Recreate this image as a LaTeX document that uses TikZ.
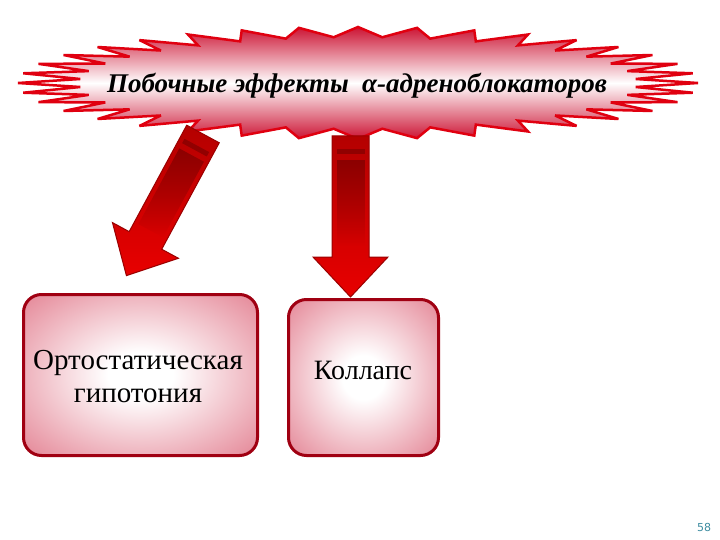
\documentclass[tikz,border=0pt]{standalone}
\usepackage{fontspec}
\setmainfont{Liberation Serif}
\newfontfamily\numfont{DejaVu Sans}
\usetikzlibrary{fadings}
\definecolor{boxpink}{HTML}{DE6A7E}
\definecolor{boxedge}{HTML}{A00012}
\definecolor{banred}{HTML}{E00010}
\definecolor{banpink}{HTML}{CC1434}
\definecolor{arrdark}{HTML}{800000}
\definecolor{arrtop}{HTML}{B40000}
\definecolor{arrbot}{HTML}{E80000}
\definecolor{arredge}{HTML}{9A0000}
\definecolor{numcol}{HTML}{3D8CA0}
\pgfdeclareradialshading{boxshade}{\pgfpoint{0bp}{0bp}}{color(0bp)=(white); color(7bp)=(white); color(42bp)=(boxpink); color(100bp)=(boxpink)}
\tikzset{
  box/.style={draw=boxedge, line width=3pt, rounded corners=18pt, shading=boxshade, align=center, inner sep=0pt},
  boxtext/.style={font=\fontsize{29}{33}\selectfont, align=center},
  banner/.style={draw=banred, line width=2.5pt, line join=miter, miter limit=4, top color=banpink, bottom color=banpink, middle color=white},
  arrowbody/.style={draw=arredge, line width=1pt, top color=arrtop, bottom color=arrbot},
}
\newcommand{\blockarrow}{%
  \path[arrowbody] (-18.5,0) -- (18.5,0) -- (18.5,121) -- (37.5,121) -- (0,161) -- (-37.5,121) -- (-18.5,121) -- cycle;
  \fill[arrdark, opacity=0.7] (-14,13) rectangle (14,18);
  \fill[arrdark, path fading=south, opacity=0.8] (-14,24) rectangle (14,110);
}
\begin{document}
\begin{tikzpicture}[x=1pt,y=-1pt]
\useasboundingbox (0,0) rectangle (720,540);
% banner
\path[banner] plot[domain=0:360, samples=73] ({358+340*(0.91+0.09*cos(36*\x))*cos(\x)}, {83+56*(0.91+0.09*cos(36*\x))*sin(\x)}) -- cycle;
\node (title) at (357,86) {\fontsize{27}{30}\selectfont\bfseries\itshape Побочные эффекты\ \ α-адреноблокаторов};
% arrows
\begin{scope}[shift={(203,134)}, rotate=-28.4]
  \blockarrow
\end{scope}
\begin{scope}[shift={(350.5,136)}]
  \blockarrow
\end{scope}
% boxes
\node[box, minimum width=234pt, minimum height=161pt] (b1) at (140.5,375) {};
\node[boxtext] (b1t) at (138,377) {Ортостатическая\\гипотония};
\node[box, minimum width=150pt, minimum height=156pt] (b2) at (363.5,377.5) {};
\node[boxtext, font=\fontsize{28}{33}\selectfont] (b2t) at (363,370) {Коллапс};
\node[font=\numfont\fontsize{11}{12}\selectfont, text=numcol] (num) at (704,527) {58};
\end{tikzpicture}
\end{document}
